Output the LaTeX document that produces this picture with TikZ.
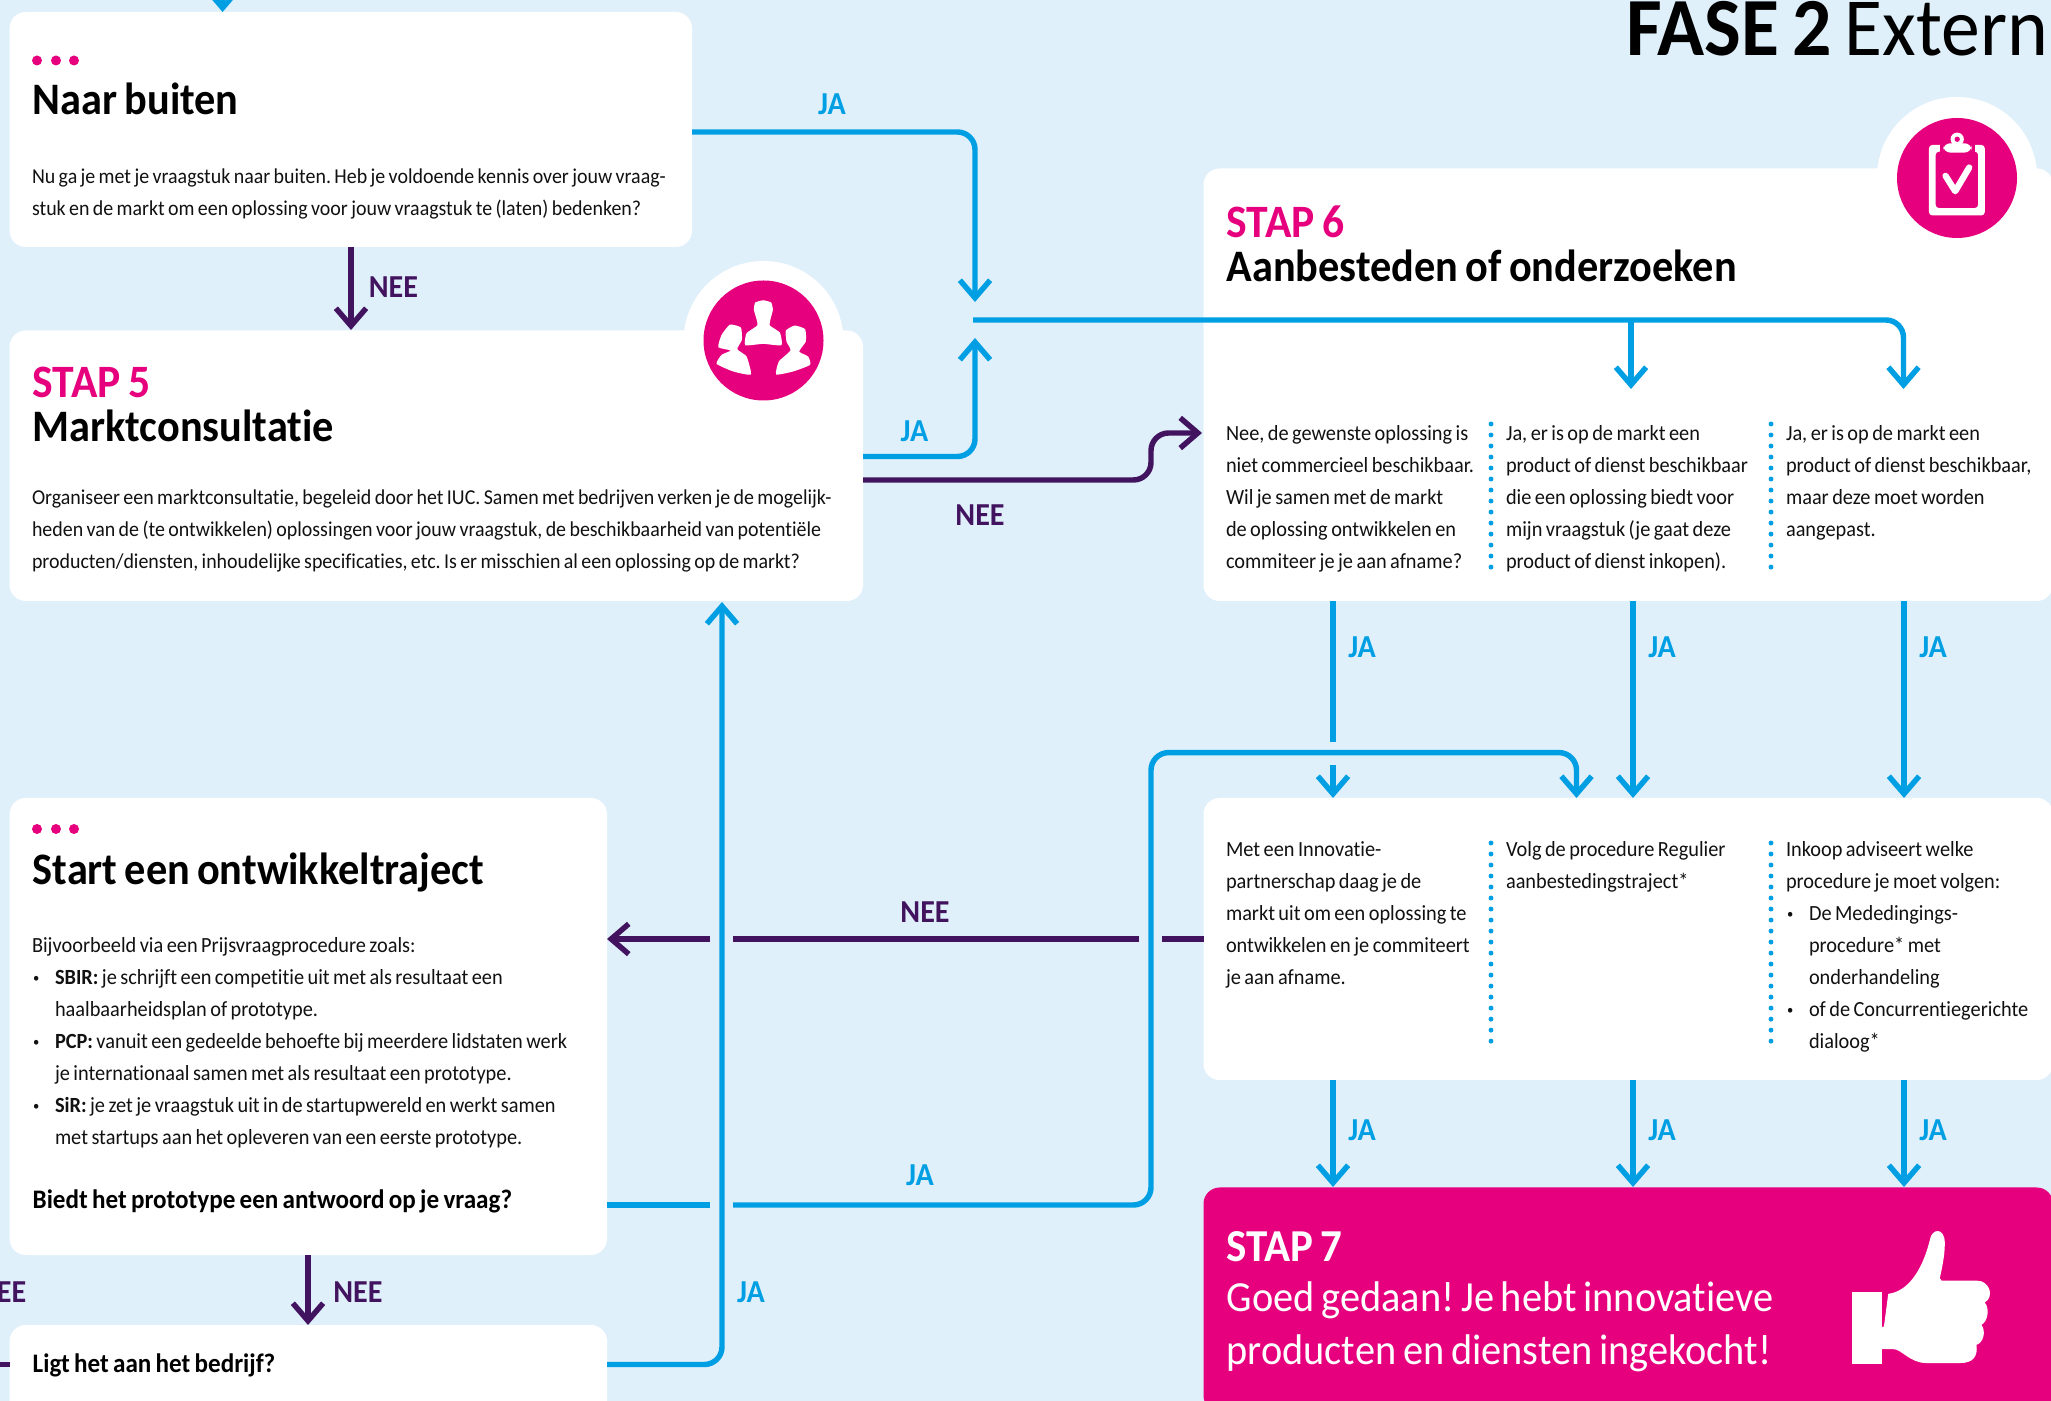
\documentclass[tikz,border=0pt]{standalone}
\usepackage{fontspec}
\setmainfont{Carlito}[FakeStretch=0.94,WordSpace=0.75,Ligatures=NoCommon]
\usetikzlibrary{arrows.meta,fit}
\definecolor{bgblue}{HTML}{E0F0FB}
\definecolor{inkblue}{HTML}{009FE3}
\definecolor{inkpurple}{HTML}{42145F}
\definecolor{inkpink}{HTML}{E6007E}
\definecolor{inkblack}{HTML}{111111}
\frenchspacing
\tikzset{
  cardbox/.style={fill=white,rounded corners=4.6pt,inner sep=0pt,outer sep=0pt},
  pinkbox/.style={fill=inkpink,rounded corners=4.6pt,inner sep=0pt,outer sep=0pt},
  yesline/.style={draw=inkblue,line width=1.55pt,rounded corners=5pt},
  noline/.style={draw=inkpurple,line width=1.55pt,rounded corners=5pt},
  yesarrow/.style={yesline,-{Straight Barb[length=5pt,width=8.6pt,line width=1.55pt]}},
  noarrow/.style={noline,-{Straight Barb[length=5pt,width=8.6pt,line width=1.55pt]}},
  bodytext/.style={anchor=base west,yshift=-0.28pt,inner sep=0pt,outer sep=0pt,align=left,text=inkblack,font=\frenchspacing\fontsize{6.15}{9.104}\selectfont},
  bodytight/.style={bodytext,font=\frenchspacing\fontsize{6.03}{9.104}\selectfont},
  bullettext/.style={anchor=base west,yshift=0.25pt,inner sep=0pt,outer sep=0pt,text=inkblack,font=\fontsize{3.8}{5}\selectfont},
  heading/.style={anchor=base west,yshift=-0.7pt,inner sep=0pt,text=black,font=\bfseries\fontsize{12.8}{15}\selectfont},
  stepname/.style={anchor=base west,yshift=-0.55pt,inner sep=0pt,text=inkpink,font=\bfseries\fontsize{13.2}{15}\selectfont},
  question/.style={anchor=base west,yshift=-0.28pt,inner sep=0pt,text=black,font=\bfseries\fontsize{7.6}{9}\selectfont},
  yeslabel/.style={inner sep=0pt,yshift=-0.15pt,text=inkblue,font=\bfseries\fontsize{9.1}{10}\selectfont},
  nolabel/.style={inner sep=0pt,yshift=-0.15pt,text=inkpurple,font=\bfseries\fontsize{9.1}{10}\selectfont},
  dotline/.style={draw=inkblue,line width=1.4pt,line cap=round,dash pattern=on 0pt off 3.13pt},
  blob/.style={fill=inkpink,draw=none},
  iconink/.style={fill=white,draw=none},
}
\begin{document}
\begin{tikzpicture}[x=0.01cm,y=-0.01cm]
\clip (0,0) rectangle (2051,1401);
\fill[bgblue] (0,0) rectangle (2051,1401);

% icon halos
\fill[white] (763.5,341) circle (80);
\fill[white] (1957,177) circle (80);

% cards
\coordinate (c1a) at (9.6,12);   \coordinate (c1b) at (692,247);
\coordinate (c5a) at (9.6,330.5);  \coordinate (c5b) at (863,601);
\coordinate (c6a) at (1203.5,168.5); \coordinate (c6b) at (2053,601);
\coordinate (cLa) at (1203.5,798); \coordinate (cLb) at (2053,1080);
\coordinate (c7a) at (1203.5,1187.5); \coordinate (c7b) at (2053,1412);
\coordinate (cSa) at (9.6,798);  \coordinate (cSb) at (607,1255);
\coordinate (cQa) at (9.6,1325); \coordinate (cQb) at (607,1440);
\node[cardbox,fit=(c1a)(c1b)] (naar) {};
\node[cardbox,fit=(c5a)(c5b)] (stap5) {};
\node[cardbox,fit=(c6a)(c6b)] (stap6) {};
\node[cardbox,fit=(cLa)(cLb)] (proc) {};
\node[pinkbox,fit=(c7a)(c7b)] (stap7) {};
\node[cardbox,fit=(cSa)(cSb)] (start) {};
\node[cardbox,fit=(cQa)(cQb)] (ligt) {};

% connector way-points
\coordinate (topin) at (222.6,-10);
\coordinate (naarTop) at (222.6,12);
\coordinate (naarE) at (692,132);
\coordinate (naarCorner) at (975,132);
\coordinate (hubUp) at (975,302);
\coordinate (hubDown) at (975,338);
\coordinate (hubOut) at (973,320);
\coordinate (naarS) at (351,247);
\coordinate (s5N) at (351,330);
\coordinate (s5Eyes) at (863,456.5);
\coordinate (s5Cyes) at (975,456.5);
\coordinate (s5Eno) at (863,480);
\coordinate (s6Cno) at (1151,480);
\coordinate (s6Cno2) at (1151,433);
\coordinate (s6W) at (1202,433);
\coordinate (hubC) at (1903.5,320);
\coordinate (hubT3) at (1903.5,389);
\coordinate (hubB2) at (1631,320);
\coordinate (hubT2) at (1631,389);
\coordinate (a1s) at (1333,601);
\coordinate (a1g) at (1333,742);
\coordinate (a1h) at (1333,765);
\coordinate (a1e) at (1333,798);
\coordinate (a2s) at (1633,601);
\coordinate (a2e) at (1633,798);
\coordinate (a3s) at (1904,601);
\coordinate (a3e) at (1904,798);
\coordinate (b1s) at (1333,1080);
\coordinate (b1e) at (1333,1187);
\coordinate (b2s) at (1633,1080);
\coordinate (b2e) at (1633,1187);
\coordinate (b3s) at (1904,1080);
\coordinate (b3e) at (1904,1187);
\coordinate (loopA) at (1576.5,798);
\coordinate (loopB) at (1576.5,752.6);
\coordinate (loopC) at (1151,752.6);
\coordinate (loopD) at (1151,1205);
\coordinate (loopE) at (733,1205);
\coordinate (loopF) at (710,1205);
\coordinate (startEy) at (607,1205);
\coordinate (pr1) at (1203.5,939);
\coordinate (pr2) at (1162,939);
\coordinate (pr3) at (1139,939);
\coordinate (pr4) at (733,939);
\coordinate (pr5) at (710,939);
\coordinate (startEn) at (607,939);
\coordinate (startS) at (308,1255);
\coordinate (ligtN) at (308,1325);
\coordinate (ligtE) at (607,1364.5);
\coordinate (ligtC) at (722,1364.5);
\coordinate (s5S) at (722,602);
\coordinate (ligtW) at (9.6,1364.5);
\coordinate (offL) at (-5,1364.5);

% blue connectors
\draw[yesarrow] (topin) -- (naarTop);
\draw[yesarrow] (naarE) -- (naarCorner) -- (hubUp);
\draw[yesarrow] (s5Eyes) -- (s5Cyes) -- (hubDown);
\draw[yesarrow] (hubOut) -- (hubC) -- (hubT3);
\draw[yesarrow] (hubB2) -- (hubT2);
\draw[yesline] (a1s) -- (a1g);
\draw[yesarrow] (a1h) -- (a1e);
\draw[yesarrow] (a2s) -- (a2e);
\draw[yesarrow] (a3s) -- (a3e);
\draw[yesarrow] (b1s) -- (b1e);
\draw[yesarrow] (b2s) -- (b2e);
\draw[yesarrow] (b3s) -- (b3e);
\draw[yesline] (startEy) -- (loopF);
\draw[yesarrow] (loopE) -- (loopD) -- (loopC) -- (loopB) -- (loopA);
\draw[yesarrow] (ligtE) -- (ligtC) -- (s5S);

% purple connectors
\draw[noarrow] (naarS) -- (s5N);
\draw[noarrow] (s5Eno) -- (s6Cno) -- (s6Cno2) -- (s6W);
\draw[noline] (pr1) -- (pr2);
\draw[noline] (pr3) -- (pr4);
\draw[noarrow] (pr5) -- (startEn);
\draw[noarrow] (startS) -- (ligtN);
\draw[noline] (offL) -- (ligtW);

% dotted separators
\draw[dotline] (1491,424) -- (1491,568);
\draw[dotline] (1771,424) -- (1771,568);
\draw[dotline] (1491,843) -- (1491,1047);
\draw[dotline] (1771,843) -- (1771,1047);

% connector labels
\node[yeslabel] (lJa1) at (832,103.5) {JA};
\node[nolabel] (lNee1) at (393.5,287) {NEE};
\node[yeslabel] (lJa2) at (914.5,431) {JA};
\node[nolabel] (lNee2) at (980,515) {NEE};
\node[yeslabel] (lJa3) at (1362,647) {JA};
\node[yeslabel] (lJa4) at (1662,647) {JA};
\node[yeslabel] (lJa5) at (1933,647) {JA};
\node[nolabel] (lNee3) at (925,912) {NEE};
\node[yeslabel] (lJa6) at (920,1175) {JA};
\node[yeslabel] (lJa7) at (1362,1130) {JA};
\node[yeslabel] (lJa8) at (1662,1130) {JA};
\node[yeslabel] (lJa9) at (1933,1130) {JA};
\node[nolabel] (lNee4) at (358,1292) {NEE};
\node[yeslabel] (lJa10) at (751,1292) {JA};
\node[nolabel,anchor=east] (lNee5) at (27,1292) {NEE};

% page title
\node[anchor=base east,inner sep=0pt,text=black,font=\fontsize{23.5}{26}\selectfont] (fase) at (2049,55.5) {\textbf{FASE 2} Extern};

% Naar buiten
\foreach \dx/\dn in {37/a,56/b,74/c} \fill[inkpink] (\dx,60.5) circle (5);
\node[heading] (naarT) at (32,112.5) {Naar buiten};
\node[bodytight] (naarB) at (32,215) {Nu ga je met je vraagstuk naar buiten. Heb je voldoende kennis over jouw vraag-\\stuk en de markt om een oplossing voor jouw vraagstuk te (laten) bedenken?};

% Stap 5
\node[stepname] (s5a) at (32,396) {STAP 5};
\node[heading] (s5b) at (32,439) {Marktconsultatie};
\node[bodytight] (s5c) at (32,568) {Organiseer een marktconsultatie, begeleid door het IUC. Samen met bedrijven verken je de mogelijk-\\heden van de (te ontwikkelen) oplossingen voor jouw vraagstuk, de beschikbaarheid van potentiële\\producten/diensten, inhoudelijke specificaties, etc. Is er misschien al een oplossing op de markt?};

% Stap 6
\node[stepname] (s6a) at (1226,236) {STAP 6};
\node[heading] (s6b) at (1226,279) {Aanbesteden of onderzoeken};
\node[bodytext] (s6c1) at (1226,568) {Nee, de gewenste oplossing is\\niet commercieel beschikbaar.\\Wil je samen met de markt\\de oplossing ontwikkelen en\\commiteer je je aan afname?};
\node[bodytext] (s6c2) at (1506,568) {Ja, er is op de markt een\\product of dienst beschikbaar\\die een oplossing biedt voor\\mijn vraagstuk (je gaat deze\\product of dienst inkopen).};
\node[bodytext] (s6c3) at (1786,536) {Ja, er is op de markt een\\product of dienst beschikbaar,\\maar deze moet worden\\aangepast.};

% procedures
\node[bodytext] (p1) at (1226,983.5) {Met een Innovatie-\\partnerschap daag je de\\markt uit om een oplossing te\\ontwikkelen en je commiteert\\je aan afname.};
\node[bodytext] (p2) at (1506,887.5) {Volg de procedure Regulier\\aanbestedingstraject*};
\node[bodytext] (p3) at (1786,887.5) {Inkoop adviseert welke\\procedure je moet volgen:};
\node[bullettext] (p3i) at (1787,919.5) {•};
\node[bodytext] (p3a) at (1809,983.5) {De Mededingings-\\procedure* met\\onderhandeling};
\node[bullettext] (p3j) at (1787,1015.5) {•};
\node[bodytext] (p3b) at (1809,1047.5) {of de Concurrentiegerichte\\dialoog*};

% Stap 7
\node[anchor=base west,yshift=-0.28pt,inner sep=0pt,text=white,font=\bfseries\fontsize{13}{15}\selectfont] (s7a) at (1226,1261) {STAP 7};
\node[anchor=base west,yshift=-0.28pt,inner sep=0pt,align=left,text=white,font=\frenchspacing\fontsize{12.2}{15.1}\selectfont] (s7b) at (1226,1364) {Goed gedaan! Je hebt innovatieve\\producten en diensten ingekocht!};

% Start
\foreach \dx/\dn in {37/a,56/b,74/c} \fill[inkpink] (\dx,829) circle (5);
\node[heading] (stT) at (32,882) {Start een ontwikkeltraject};
\node[bodytext] (stB) at (32,951.5) {Bijvoorbeeld via een Prijsvraagprocedure zoals:};
\node[bullettext] (sti1) at (33,983.5) {•};
\node[bodytext] (stL1) at (55,1015.5) {\textbf{SBIR:} je schrijft een competitie uit met als resultaat een\\haalbaarheidsplan of prototype.};
\node[bullettext] (sti2) at (33,1047.5) {•};
\node[bodytext] (stL2) at (55,1079.5) {\textbf{PCP:} vanuit een gedeelde behoefte bij meerdere lidstaten werk\\je internationaal samen met als resultaat een prototype.};
\node[bullettext] (sti3) at (33,1111.5) {•};
\node[bodytext] (stL3) at (55,1143.5) {\textbf{SiR:} je zet je vraagstuk uit in de startupwereld en werkt samen\\met startups aan het opleveren van een eerste prototype.};
\node[question] (stQ) at (32,1208) {Biedt het prototype een antwoord op je vraag?};
\node[question] (lgQ) at (32,1372) {Ligt het aan het bedrijf?};

% people icon
\fill[blob] (763.5,340.5) circle (60);
\begin{scope}[shift={(680,260)},x=0.00333cm,y=-0.00333cm]
  \fill[iconink] plot[smooth cycle,tension=0.3] coordinates {(250,121)(274,128)(279,150)(272,178)(270,197)(300,218)(305,256)(250,252)(196,256)(200,220)(232,197)(230,178)(222,150)(226,128)};
  \fill[iconink] plot[smooth cycle,tension=0.3] coordinates {(150,194)(183,203)(186,240)(172,268)(200,290)(213,344)(160,335)(110,312)(125,285)(152,272)(115,262)(125,225)};
  \fill[iconink] plot[smooth cycle,tension=0.3] coordinates {(345,197)(376,208)(378,245)(358,275)(385,290)(391,315)(340,335)(289,344)(297,305)(332,272)(320,245)(318,212)};
\end{scope}

% clipboard icon
\fill[blob] (1957,178) circle (60);
\begin{scope}[shift={(1880,100)},x=0.00333cm,y=-0.00333cm]
  \fill[iconink,rounded corners=1pt,even odd rule] (147,135) rectangle (315,347) (167,155) rectangle (295,325);
  \fill[inkpink] (180,125) rectangle (285,165);
  \fill[iconink,rounded corners=2pt] (190,130) rectangle (275,158);
  \fill[iconink] (232,118) circle (20);
  \fill[inkpink] (232,118) circle (8);
  \draw[white,line width=1.8pt,line cap=round,line join=round] (197,228) -- (226,274) -- (268,203);
\end{scope}

% thumb icon
\begin{scope}[shift={(1830,1210)},x=0.00333cm,y=-0.00333cm]
  \fill[iconink] (65,245) -- (155,245) -- (155,462) -- (65,462) -- cycle;
  \fill[iconink] (175,252) .. controls (230,245) and (275,190) .. (300,90)
    .. controls (305,55) and (345,50) .. (345,100)
    .. controls (345,140) and (335,180) .. (330,205)
    -- (335,212) -- (440,212)
    .. controls (480,212) and (495,260) .. (465,278)
    .. controls (480,295) and (475,335) .. (455,345)
    .. controls (470,365) and (460,400) .. (440,405)
    .. controls (445,440) and (430,460) .. (390,460)
    -- (290,460) .. controls (240,460) and (215,418) .. (190,418)
    -- (155,418) -- (155,352) -- (162,350) -- cycle;
\end{scope}
\end{tikzpicture}
\end{document}
